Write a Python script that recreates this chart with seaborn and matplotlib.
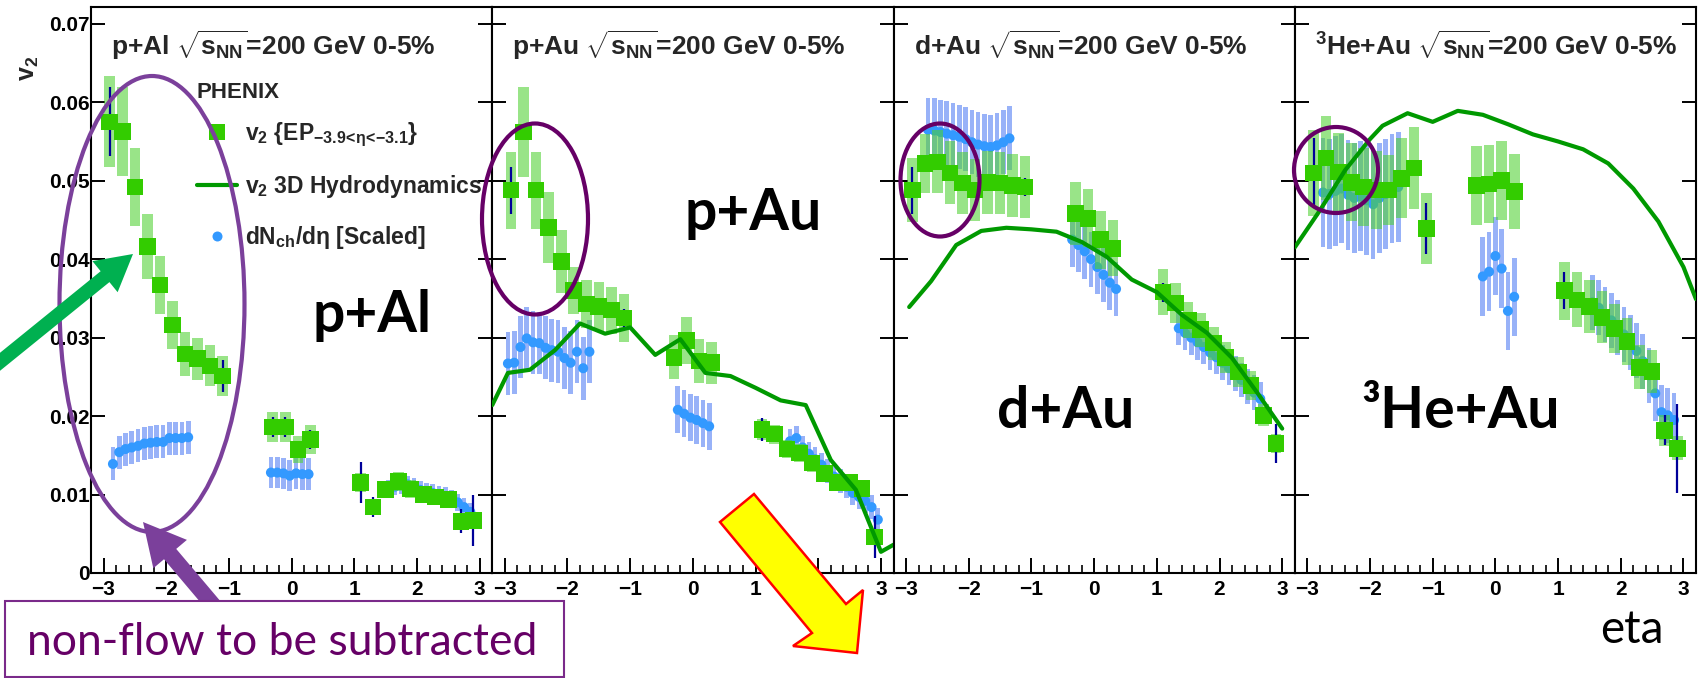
import numpy as np
import pandas as pd
import matplotlib
matplotlib.use("Agg")
import matplotlib.pyplot as plt
import seaborn as sns
from matplotlib.patches import Ellipse, Polygon, Rectangle
from matplotlib.lines import Line2D
from matplotlib.ticker import MultipleLocator, FixedLocator, FuncFormatter

W, H, DPI = 1703, 678, 100

# ---------------- data ----------------
# p+Al
pal_eta = [-2.9, -2.7, -2.5, -2.3, -2.1, -1.9, -1.7, -1.5, -1.3, -1.1, -0.3, -0.1, 0.1, 0.3,
           1.1, 1.3, 1.5, 1.7, 1.9, 2.1, 2.3, 2.5, 2.7, 2.9]
pal_v2 = [0.0575, 0.0563, 0.0492, 0.0416, 0.0367, 0.0316, 0.0279, 0.0273, 0.0264, 0.0251,
          0.0186, 0.0186, 0.0157, 0.0170,
          0.0115, 0.0084, 0.0106, 0.0117, 0.0107, 0.0100, 0.0097, 0.0094, 0.0066, 0.0067]
pal_sys = [0.0058, 0.0057, 0.0050, 0.0041, 0.0037, 0.0031, 0.0028, 0.0027, 0.0026, 0.0025,
           0.0019, 0.0019, 0.0017, 0.0018,
           0.0012, 0.0009, 0.0011, 0.0012, 0.0011, 0.0010, 0.0010, 0.0010, 0.0008, 0.0008]
pal_stat = [0.0044, 0.0008, 0.0004, 0.0004, 0.0004, 0.0004, 0.0004, 0.0004, 0.0004, 0.0020,
            0.0013, 0.0013, 0.0004, 0.0012,
            0.0026, 0.0013, 0.0004, 0.0004, 0.0004, 0.0004, 0.0004, 0.0004, 0.0015, 0.0032]
pal_eta_b = [-2.85, -2.75, -2.65, -2.55, -2.45, -2.35, -2.25, -2.15, -2.05, -1.95, -1.85, -1.75, -1.65,
             -0.33, -0.23, -0.13, -0.03, 0.07, 0.17, 0.27,
             1.55, 1.65, 1.75, 1.85, 1.95, 2.05, 2.15, 2.25, 2.35, 2.45, 2.55, 2.65, 2.75, 2.85]
pal_dn = [0.0139, 0.0154, 0.0158, 0.0160, 0.0162, 0.0165, 0.0166, 0.0167, 0.0167, 0.0172, 0.0172, 0.0172, 0.0173,
          0.0128, 0.0128, 0.0127, 0.0124, 0.0127, 0.0126, 0.0126,
          0.0108, 0.0110, 0.0112, 0.0113, 0.0110, 0.0106, 0.0104, 0.0102, 0.0100, 0.0098, 0.0095, 0.0090, 0.0084, 0.0078]
pal_dn_sys = [0.0021] * 13 + [0.0020] * 7 + [0.0011] * 14

# p+Au
pau_eta = pal_eta
pau_v2 = [0.0488, 0.0562, 0.0488, 0.0440, 0.0397, 0.0360, 0.0343, 0.0340, 0.0335, 0.0325,
          0.0275, 0.0296, 0.0270, 0.0268,
          0.0183, 0.0177, 0.0158, 0.0153, 0.0140, 0.0127, 0.0115, 0.0115, 0.0108, 0.0046]
pau_sys = [0.0049, 0.0057, 0.0049, 0.0045, 0.0040, 0.0030, 0.0031, 0.0031, 0.0030, 0.0030,
           0.0028, 0.0030, 0.0028, 0.0027,
           0.0013, 0.0012, 0.0012, 0.0011, 0.0011, 0.0010, 0.0010, 0.0009, 0.0009, 0.0008]
pau_stat = [0.0030, 0.0004, 0.0004, 0.0004, 0.0004, 0.0004, 0.0004, 0.0004, 0.0004, 0.0012,
            0.0004, 0.0004, 0.0004, 0.0004,
            0.0015, 0.0004, 0.0004, 0.0004, 0.0004, 0.0004, 0.0004, 0.0004, 0.0004, 0.0027]
pau_eta_b = [-2.95, -2.85, -2.75, -2.65, -2.55, -2.45, -2.35, -2.25, -2.15, -2.05, -1.95, -1.85, -1.75, -1.65,
             -0.24, -0.14, -0.04, 0.06, 0.16, 0.26,
             1.55, 1.65, 1.75, 1.85, 1.95, 2.05, 2.15, 2.25, 2.35, 2.45, 2.55, 2.65, 2.75, 2.85, 2.95]
pau_dn = [0.0267, 0.0268, 0.0288, 0.0299, 0.0294, 0.0293, 0.0287, 0.0284, 0.0282, 0.0274, 0.0268, 0.0282, 0.0261, 0.0282,
          0.0208, 0.0203, 0.0198, 0.0195, 0.0191, 0.0187,
          0.0168, 0.0172, 0.0160, 0.0152, 0.0145, 0.0138, 0.0130, 0.0123, 0.0117, 0.0110, 0.0102, 0.0097, 0.0092, 0.0084, 0.0068]
pau_dn_sys = [0.0040] * 14 + [0.0030] * 6 + [0.0015] * 15
pau_eta_h = [-3.2, -2.95, -2.6, -2.2, -1.8, -1.4, -1.0, -0.6, -0.2, 0.2, 0.6, 1.0, 1.4, 1.8, 2.2, 2.6, 3.0, 3.2]
pau_hydro = [0.0214, 0.0255, 0.0259, 0.0284, 0.0318, 0.0305, 0.0313, 0.0278, 0.0298, 0.0255,
             0.0251, 0.0236, 0.0220, 0.0214, 0.0144, 0.0106, 0.0027, 0.0036]

# d+Au
dau_eta = pal_eta
dau_v2 = [0.0488, 0.0522, 0.0524, 0.0510, 0.0497, 0.0488, 0.0498, 0.0497, 0.0494, 0.0492,
          0.0458, 0.0452, 0.0425, 0.0414,
          0.0358, 0.0344, 0.0322, 0.0310, 0.0293, 0.0275, 0.0256, 0.0239, 0.0201, 0.0165]
dau_sys = [0.0041, 0.0038, 0.0040, 0.0040, 0.0040, 0.0040, 0.0040, 0.0040, 0.0040, 0.0040,
           0.0040, 0.0037, 0.0037, 0.0036,
           0.0029, 0.0025, 0.0023, 0.0022, 0.0021, 0.0020, 0.0019, 0.0018, 0.0014, 0.0012]
dau_stat = [0.0030, 0.0004, 0.0004, 0.0004, 0.0004, 0.0004, 0.0004, 0.0004, 0.0004, 0.0012,
            0.0004, 0.0004, 0.0004, 0.0004,
            0.0012, 0.0004, 0.0004, 0.0004, 0.0004, 0.0004, 0.0004, 0.0004, 0.0004, 0.0025]
dau_eta_b = [-2.65, -2.55, -2.45, -2.35, -2.25, -2.15, -2.05, -1.95, -1.85, -1.75, -1.65, -1.55, -1.45, -1.35,
             -0.35, -0.25, -0.15, -0.05, 0.05, 0.15, 0.25, 0.35,
             1.35, 1.45, 1.55, 1.65, 1.75, 1.85, 1.95, 2.05, 2.15, 2.25, 2.35, 2.45, 2.55, 2.65]
dau_dn = [0.0565, 0.0564, 0.0562, 0.0560, 0.0558, 0.0556, 0.0553, 0.0549, 0.0546, 0.0544, 0.0543, 0.0545, 0.0549, 0.0554,
          0.0425, 0.0418, 0.0410, 0.0400, 0.0390, 0.0380, 0.0370, 0.0362,
          0.0312, 0.0306, 0.0300, 0.0294, 0.0288, 0.0281, 0.0275, 0.0268, 0.0261, 0.0254, 0.0246, 0.0238, 0.0230, 0.0222]
dau_dn_sys = [0.0041] * 14 + [0.0035] * 8 + [0.0022] * 14
dau_eta_h = [-2.95, -2.6, -2.2, -1.8, -1.4, -1.0, -0.6, -0.2, 0.2, 0.6, 1.0, 1.4, 1.8, 2.2, 2.6, 3.0]
dau_hydro = [0.0339, 0.0372, 0.0418, 0.0436, 0.0440, 0.0438, 0.0435, 0.0422, 0.0403, 0.0374,
             0.0358, 0.0329, 0.0306, 0.0274, 0.0230, 0.0184]

# 3He+Au
hau_eta = pal_eta
hau_v2 = [0.0510, 0.0529, 0.0511, 0.0498, 0.0492, 0.0488, 0.0488, 0.0503, 0.0516, 0.0439,
          0.0494, 0.0496, 0.0500, 0.0486,
          0.0360, 0.0348, 0.0340, 0.0326, 0.0312, 0.0295, 0.0262, 0.0257, 0.0182, 0.0159]
hau_sys = [0.0055, 0.0053, 0.0050, 0.0050, 0.0050, 0.0050, 0.0045, 0.0051, 0.0052, 0.0045,
           0.0050, 0.0050, 0.0050, 0.0048,
           0.0037, 0.0035, 0.0034, 0.0033, 0.0031, 0.0030, 0.0028, 0.0027, 0.0020, 0.0015]
hau_stat = [0.0045, 0.0004, 0.0004, 0.0004, 0.0004, 0.0004, 0.0004, 0.0004, 0.0004, 0.0033,
            0.0004, 0.0004, 0.0004, 0.0004,
            0.0024, 0.0004, 0.0004, 0.0004, 0.0004, 0.0004, 0.0004, 0.0008, 0.0019, 0.0057]
hau_eta_b = [-2.75, -2.65, -2.55, -2.45, -2.35, -2.25, -2.15, -2.05, -1.95, -1.85, -1.75, -1.65, -1.55,
             -0.2, -0.1, 0.0, 0.1, 0.2, 0.3,
             1.55, 1.65, 1.75, 1.85, 1.95, 2.05, 2.15, 2.25, 2.35, 2.45, 2.55, 2.65, 2.75, 2.85]
hau_dn = [0.0485, 0.0483, 0.0487, 0.0490, 0.0482, 0.0478, 0.0480, 0.0475, 0.0470, 0.0478, 0.0483, 0.0490, 0.0492,
          0.0378, 0.0384, 0.0404, 0.0388, 0.0334, 0.0352,
          0.0345, 0.0338, 0.0330, 0.0322, 0.0313, 0.0304, 0.0294, 0.0283, 0.0270, 0.0252, 0.0229, 0.0205, 0.0201, 0.0195]
hau_dn_sys = [0.0070] * 13 + [0.0050] * 6 + [0.0035] * 14
hau_eta_h = [-3.2, -2.8, -2.4, -2.0, -1.8, -1.4, -1.0, -0.6, -0.2, 0.2, 0.6, 1.0, 1.4, 1.8, 2.2, 2.6, 3.0, 3.2]
hau_hydro = [0.0415, 0.0462, 0.0513, 0.0553, 0.0570, 0.0586, 0.0575, 0.0589, 0.0584, 0.0572,
             0.0559, 0.0550, 0.0540, 0.0522, 0.0490, 0.0448, 0.0390, 0.0349]

panel_titles = [r"p+Al $\sqrt{s_{NN}}$=200 GeV 0-5%",
                r"p+Au $\sqrt{s_{NN}}$=200 GeV 0-5%",
                r"d+Au $\sqrt{s_{NN}}$=200 GeV 0-5%",
                r"$^{3}$He+Au $\sqrt{s_{NN}}$=200 GeV 0-5%"]
big_labels = ["p+Al", "p+Au", "d+Au", "³He+Au"]
x_ticks = [-3, -2, -1, 0, 1, 2, 3]
y_ticks = [0.0, 0.01, 0.02, 0.03, 0.04, 0.05, 0.06, 0.07]
legend_labels = [r"v$_{2}$ {EP$_{-3.9\!<\!\eta\!<\!{-}3.1}$}", r"v$_{2}$ 3D Hydrodynamics",
                 r"dN$_{ch}$/d$\eta$ [Scaled]"]

panels = [
    dict(eta=pal_eta, v2=pal_v2, sys=pal_sys, stat=pal_stat, eta_b=pal_eta_b, dn=pal_dn, dn_sys=pal_dn_sys,
         eta_h=None, hydro=None),
    dict(eta=pau_eta, v2=pau_v2, sys=pau_sys, stat=pau_stat, eta_b=pau_eta_b, dn=pau_dn, dn_sys=pau_dn_sys,
         eta_h=pau_eta_h, hydro=pau_hydro),
    dict(eta=dau_eta, v2=dau_v2, sys=dau_sys, stat=dau_stat, eta_b=dau_eta_b, dn=dau_dn, dn_sys=dau_dn_sys,
         eta_h=dau_eta_h, hydro=dau_hydro),
    dict(eta=hau_eta, v2=hau_v2, sys=hau_sys, stat=hau_stat, eta_b=hau_eta_b, dn=hau_dn, dn_sys=hau_dn_sys,
         eta_h=hau_eta_h, hydro=hau_hydro),
]

# ---------------- style ----------------
sns.set_theme(style="ticks")
plt.rcParams.update({
    "font.family": ["Liberation Sans", "DejaVu Sans"],
    "font.weight": "bold",
    "mathtext.fontset": "custom",
    "mathtext.rm": "Liberation Sans:bold",
    "mathtext.it": "Liberation Sans:bold",
    "mathtext.bf": "Liberation Sans:bold",
    "mathtext.sf": "Liberation Sans:bold",
    "axes.facecolor": "white",
    "figure.facecolor": "white",
})

C_SQ = "#33CC00"
C_SQBOX = "#4FD132"
C_DOT = "#3399FF"
C_DOTBOX = "#7F9FF7"
C_HYDRO = "#009900"
C_STAT = "#000099"

fig, axes = plt.subplots(1, 4, figsize=(W / DPI, H / DPI), dpi=DPI, sharey=True)
fig.subplots_adjust(left=91 / W, right=1696 / W, bottom=1 - 573 / H, top=1 - 7.3 / H, wspace=0)

for ax, p in zip(axes, panels):
    eta = np.array(p["eta"]); v2 = np.array(p["v2"]); sy = np.array(p["sys"]); st = np.array(p["stat"])
    eb = np.array(p["eta_b"]); dn = np.array(p["dn"]); dsy = np.array(p["dn_sys"])
    ax.bar(eb, 2 * dsy, bottom=dn - dsy, width=0.075, color=C_DOTBOX, alpha=0.8, linewidth=0, zorder=1)
    sns.scatterplot(x=eb, y=dn, ax=ax, marker="o", s=52, color=C_DOT, edgecolor="none", linewidth=0,
                    zorder=2, legend=False)
    ax.bar(eta, 2 * sy, bottom=v2 - sy, width=0.17, color=C_SQBOX, alpha=0.58, linewidth=0, zorder=3)
    ax.vlines(eta, v2 - st, v2 + st, color=C_STAT, lw=1.6, zorder=4)
    sns.scatterplot(x=eta, y=v2, ax=ax, marker="s", s=144, color=C_SQ, edgecolor="none", linewidth=0,
                    zorder=5, legend=False)
    if p["eta_h"] is not None:
        sns.lineplot(x=p["eta_h"], y=p["hydro"], ax=ax, sort=False, estimator=None, errorbar=None,
                     color=C_HYDRO, lw=3, zorder=6)
    ax.set_xlim(-3.2, 3.2)
    ax.set_ylim(0, 0.0721)
    ax.set_xlabel("")
    ax.set_ylabel("")
    ax.xaxis.set_major_locator(FixedLocator(x_ticks))
    ax.xaxis.set_minor_locator(MultipleLocator(0.2))
    ax.yaxis.set_major_locator(FixedLocator(y_ticks))
    ax.yaxis.set_major_formatter(FuncFormatter(lambda v, pos: "0" if abs(v) < 1e-9 else f"{v:.2f}"))
    ax.tick_params(axis="x", which="major", direction="in", length=10.8, width=1.4, top=False,
                   bottom=True, labelsize=15, pad=5, colors="black")
    ax.tick_params(axis="x", which="minor", direction="in", length=5.8, width=1.4, top=False, bottom=True)
    ax.tick_params(axis="y", which="major", direction="in", length=10, width=1.4, left=True, right=True,
                   labelsize=15, pad=1, colors="black")
    ax.tick_params(axis="y", which="minor", left=False, right=False)
    for s in ax.spines.values():
        s.set_visible(True)
        s.set_linewidth(1.5)
        s.set_color("black")

# legend in first panel
handles = [Line2D([], [], marker="s", color=C_SQ, linestyle="", markersize=12, markeredgewidth=0),
           Line2D([], [], color=C_HYDRO, lw=3),
           Line2D([], [], marker="o", color=C_DOT, linestyle="", markersize=7.2, markeredgewidth=0)]
axes[0].legend(handles, legend_labels, loc="upper left",
               bbox_to_anchor=((197 - 91) / 401, (573 - 120) / 566), frameon=False, fontsize=16.5,
               handlelength=1.75, handletextpad=0.35, labelspacing=1.05, borderpad=0, borderaxespad=0)
fig.text(197 / W, 1 - 93 / H, "PHENIX", va="center", ha="left", fontsize=16)

# panel titles
lefts = [91, 492.25, 893.5, 1294.75]
for lx, t in zip(lefts, panel_titles):
    fig.text((lx + 20) / W, 1 - 45 / H, t, va="center", ha="left", fontsize=19)

fig.text(29 / W, 1 - 68 / H, r"v$_{2}$", rotation=90, va="center", ha="center", fontsize=18)

# big labels
for (cx, by), lab in zip([(372, 332), (753, 230), (1066, 428), (1461, 428)], big_labels):
    fig.text(cx / W, 1 - by / H, lab, ha="center", va="baseline", family=["Lato", "DejaVu Sans"],
             fontweight="bold", fontsize=41, color="black")

fig.text(1632 / W, 1 - 643 / H, "eta", ha="center", va="baseline", family=["Lato", "DejaVu Sans"],
         fontweight="normal", fontsize=33, color="black")


def fx(pt):
    return (pt[0] / W, 1 - pt[1] / H)


def arrow_pts(x0, y0, x1, y1, sw, hw, hl):
    d = np.array([x1 - x0, y1 - y0], float)
    u = d / np.hypot(*d)
    n = np.array([-u[1], u[0]])
    tip = np.array([x1, y1], float)
    base = tip - u * hl
    tail = np.array([x0, y0], float)
    pts = [tail + n * sw / 2, base + n * sw / 2, base + n * hw / 2, tip,
           base - n * hw / 2, base - n * sw / 2, tail - n * sw / 2]
    return [fx(q) for q in pts]


# ellipses
ells = [((152, 304), 185, 456, "#7B409B"), ((535, 219), 106, 191, "#660066"),
        ((940, 180), 79, 113, "#660066"), ((1336, 170), 84, 86, "#660066")]
for c, w, h, col in ells:
    fig.add_artist(Ellipse(fx(c), w / W, h / H, transform=fig.transFigure, fill=False, ec=col, lw=3,
                           zorder=2))

# green arrow
fig.add_artist(Polygon(arrow_pts(-20, 378, 133, 254, 14, 40, 36), closed=True, transform=fig.transFigure,
                       fc="#00B050", ec="none", zorder=2))
# purple arrow
fig.add_artist(Polygon(arrow_pts(214, 606, 143, 522, 16, 44, 42), closed=True, transform=fig.transFigure,
                       fc="#7B409B", ec="none", zorder=2))
# text box
fig.add_artist(Rectangle(fx((5, 677)), (564 - 5) / W, (677 - 601) / H, transform=fig.transFigure,
                         fc="white", ec="#7A2A8A", lw=1.5, zorder=3))
fig.text(27 / W, 1 - 655 / H, "non-flow to be subtracted", ha="left", va="baseline",
         family=["Lato", "DejaVu Sans"], fontweight="normal", fontsize=32, color="#660066", zorder=4)

# yellow arrow
yel = [(720, 522), (754, 494), (846, 604), (863, 590), (857, 653), (793, 646), (812, 633)]
fig.add_artist(Polygon([fx(q) for q in yel], closed=True, transform=fig.transFigure,
                       fc="#FFFF00", ec="#FF0000", lw=1.8, zorder=2))

fig.savefig("out.png", dpi=DPI)
